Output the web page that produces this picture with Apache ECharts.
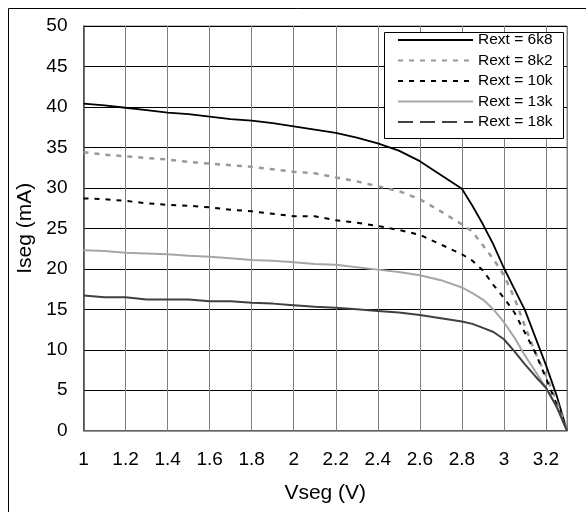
<!DOCTYPE html>
<html>
<head>
<meta charset="utf-8">
<script src="https://cdn.jsdelivr.net/npm/echarts@6/dist/echarts.min.js"></script>
<style>
html,body{margin:0;padding:0;background:#fff;}
#c{width:586px;height:512px;}
</style>
</head>
<body>
<div id="c"></div>
<script>
const voltage = [1.0,1.1,1.2,1.3,1.4,1.5,1.6,1.7,1.8,1.9,2.0,2.1,2.2,2.3,2.4,2.5,2.6,2.7,2.8,2.85,2.9,2.95,3.0,3.05,3.1,3.15,3.2,3.25,3.3];
const rext6k8 = [40.4,40.2,39.9,39.6,39.3,39.1,38.8,38.5,38.3,38.0,37.6,37.2,36.8,36.2,35.5,34.6,33.3,31.6,29.9,27.8,25.5,23.0,20.1,17.5,14.9,11.5,8.1,4.4,0];
const rext8k2 = [34.4,34.1,33.9,33.7,33.5,33.2,33.0,32.8,32.6,32.3,32.0,31.8,31.3,30.8,30.2,29.6,28.6,27.1,25.5,24.6,22.9,21.2,19.2,16.4,12.9,9.6,6.8,3.7,0];
const rext10k = [28.7,28.6,28.4,28.1,27.9,27.8,27.6,27.3,27.1,26.8,26.5,26.5,26.0,25.7,25.3,24.8,24.2,23.0,21.8,21.0,19.8,18.0,16.4,14.6,12.1,9.6,6.5,3.3,0];
const rext13k = [22.3,22.2,22.0,21.9,21.8,21.6,21.5,21.3,21.1,21.0,20.8,20.6,20.5,20.2,19.9,19.6,19.2,18.6,17.7,17.0,16.2,15.0,13.4,11.5,9.3,7.3,5.3,3.0,0];
const rext18k = [16.7,16.5,16.5,16.2,16.2,16.2,16.0,16.0,15.8,15.7,15.5,15.3,15.2,15.0,14.8,14.6,14.3,13.9,13.5,13.2,12.7,12.2,11.3,9.8,8.2,6.7,5.3,3.0,0];
const seriesNames = ['Rext = 6k8','Rext = 8k2','Rext = 10k','Rext = 13k','Rext = 18k'];
const xTicks = {min:1, max:3.3, step:0.2};
const yTicks = {min:0, max:50, step:5};

function pairs(ys){ return voltage.map((v,i)=>[v, ys[i]]); }

const font = "'Liberation Sans', Arial, sans-serif";
const chart = echarts.init(document.getElementById('c'), null, {renderer:'canvas'});
chart.setOption({
  animation:false,
  backgroundColor:'#fff',
  textStyle:{fontFamily:font},
  graphic:[
    {type:'rect', left:6, top:6, z:-10,
     shape:{x:0,y:0,width:620,height:620},
     style:{fill:'none', stroke:'#000', lineWidth:1}},
    {type:'rect', left:384, top:32, z:50,
     shape:{x:0,y:0,width:179,height:106},
     style:{fill:'#fff', stroke:'#000', lineWidth:1}}
  ],
  grid:{left:83.5, right:19, top:26, bottom:81.3, show:true, borderColor:'#808080', borderWidth:1},
  legend:{
    orient:'vertical', left:397, top:32, z:60,
    padding:0, itemGap:4.5, itemWidth:75, itemHeight:16,
    itemStyle:{opacity:0},
    textStyle:{fontSize:15.5, color:'#000', fontFamily:font},
    data:[
      {name:seriesNames[0]},
      {name:seriesNames[1]},
      {name:seriesNames[2]},
      {name:seriesNames[3]},
      {name:seriesNames[4], lineStyle:{type:[15,7]}}
    ]
  },
  xAxis:{
    type:'value', min:xTicks.min, max:xTicks.max, interval:xTicks.step,
    name:'Vseg (V)', nameLocation:'middle', nameGap:52,
    nameTextStyle:{fontSize:21, color:'#000', fontFamily:font},
    axisLine:{show:true, lineStyle:{color:'#808080', width:1.5}},
    axisTick:{show:false},
    axisLabel:{fontSize:19, color:'#000', margin:20, fontFamily:font,
      formatter:function(v){ if (v > 3.25) return ''; return String(Math.round(v*10)/10); }},
    splitLine:{show:true, lineStyle:{color:'#808080', width:1}}
  },
  yAxis:{
    type:'value', min:yTicks.min, max:yTicks.max, interval:yTicks.step,
    name:'Iseg (mA)', nameLocation:'middle', nameGap:48,
    nameTextStyle:{fontSize:21, color:'#000', fontFamily:font},
    axisLine:{show:true, lineStyle:{color:'#404040', width:1.5}},
    axisTick:{show:false},
    axisLabel:{fontSize:19, color:'#000', margin:16, fontFamily:font},
    splitLine:{show:true, lineStyle:{color:'#000', width:1}}
  },
  series:[
    {name:seriesNames[0], type:'line', symbol:'none', data:pairs(rext6k8),
     lineStyle:{color:'#000', width:1.8, type:'solid'}, itemStyle:{color:'#000'}},
    {name:seriesNames[1], type:'line', symbol:'none', data:pairs(rext8k2),
     lineStyle:{color:'#999', width:2.5, type:[5,6]}, itemStyle:{color:'#999'}},
    {name:seriesNames[2], type:'line', symbol:'none', data:pairs(rext10k),
     lineStyle:{color:'#000', width:2, type:[5,6]}, itemStyle:{color:'#000'}},
    {name:seriesNames[3], type:'line', symbol:'none', data:pairs(rext13k),
     lineStyle:{color:'#a6a6a6', width:2, type:'solid'}, itemStyle:{color:'#a6a6a6'}},
    {name:seriesNames[4], type:'line', symbol:'none', data:pairs(rext18k),
     lineStyle:{color:'#404040', width:2, type:'solid'}, itemStyle:{color:'#404040'}}
  ]
});
</script>
</body>
</html>
